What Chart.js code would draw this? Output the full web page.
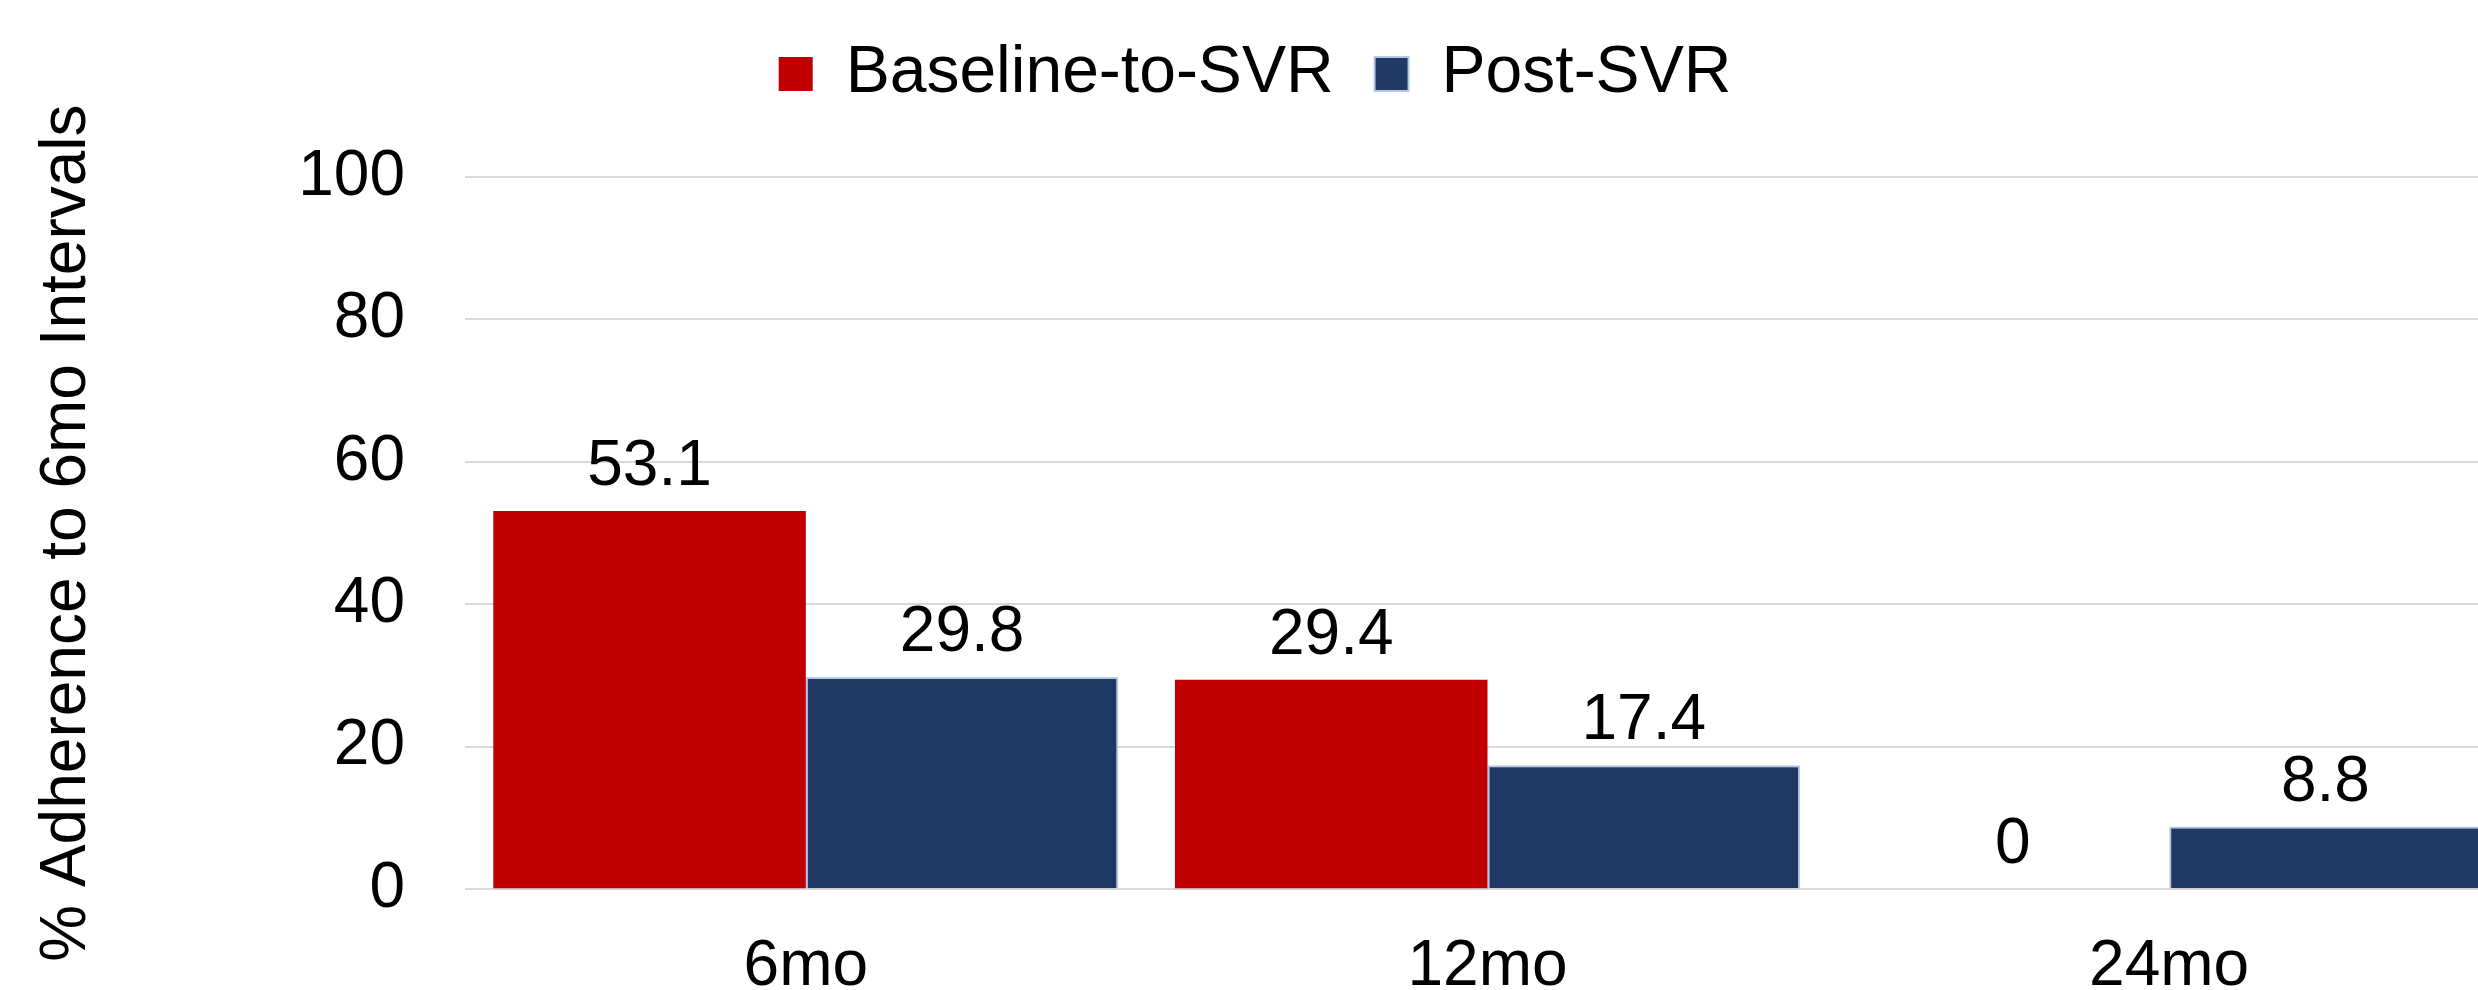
<!DOCTYPE html>
<html>
<head>
<meta charset="utf-8">
<script src="https://cdn.jsdelivr.net/npm/chart.js@4.4.0/dist/chart.umd.min.js"></script>
<style>
    html, body { margin: 0; padding: 0; background: #fff; overflow: hidden; }
    #wrap { width: 2512px; height: 1046px; }
</style>
</head>
<body>
<div id="wrap"><canvas id="adherence-chart"></canvas></div>
<script>
// Chart data
const categories = ['6mo', '12mo', '24mo'];
const baselineToSvr = [53.1, 29.4, 0];
const postSvr = [29.8, 17.4, 8.8];
const yTicks = [0, 20, 40, 60, 80, 100];

const FONT = '"Liberation Sans", Arial, sans-serif';

// Draw the value above each bar
const barValueLabels = {
    id: 'barValueLabels',
    afterDatasetsDraw(chart) {
        const ctx = chart.ctx;
        ctx.save();
        ctx.font = '64px ' + FONT;
        ctx.fillStyle = '#000';
        ctx.textAlign = 'center';
        ctx.textBaseline = 'alphabetic';
        chart.data.datasets.forEach((ds, i) => {
            chart.getDatasetMeta(i).data.forEach((bar, j) => {
                ctx.fillText(String(ds.data[j]), bar.x, bar.y - 26);
            });
        });
        ctx.restore();
    }
};

// Extra space between the legend and the plot
const legendGap = {
    id: 'legendGap',
    beforeInit(chart) {
        const origFit = chart.legend.fit;
        chart.legend.fit = function () {
            origFit.bind(chart.legend)();
            this.height += 60;
        };
    }
};

function initChart() {
    const ctx = document.getElementById('adherence-chart').getContext('2d');
    new Chart(ctx, {
        type: 'bar',
        data: {
            labels: categories,
            datasets: [{
                label: 'Baseline-to-SVR',
                data: baselineToSvr,
                backgroundColor: '#C00000',
                borderWidth: 0
            }, {
                label: 'Post-SVR',
                data: postSvr,
                backgroundColor: '#203864',
                borderColor: '#B4C7E7',
                borderWidth: 2
            }]
        },
        plugins: [barValueLabels, legendGap],
        options: {
            responsive: true,
            maintainAspectRatio: false,
            animation: false,
            layout: { padding: { top: 0, right: 2, left: 0, bottom: 0 } },
            datasets: {
                bar: { categoryPercentage: 0.917, barPercentage: 1.0 }
            },
            plugins: {
                legend: {
                    position: 'top',
                    labels: {
                        color: '#000',
                        font: { family: FONT, size: 66 },
                        boxWidth: 34,
                        boxHeight: 34,
                        padding: 41
                    }
                },
                tooltip: { enabled: false }
            },
            scales: {
                x: {
                    grid: { display: false, drawTicks: false },
                    border: { display: false },
                    ticks: {
                        color: '#000',
                        font: { family: FONT, size: 64 },
                        padding: 40
                    }
                },
                y: {
                    min: 0,
                    max: 100,
                    afterBuildTicks: axis => {
                        axis.ticks = yTicks.map(v => ({ value: v }));
                    },
                    afterFit: axis => { axis.width = 465; },
                    grid: { color: '#D9D9D9', lineWidth: 2, drawTicks: false },
                    border: { display: false },
                    ticks: {
                        color: '#000',
                        font: { family: FONT, size: 64 },
                        padding: 60
                    },
                    title: {
                        display: true,
                        text: '% Adherence to 6mo Intervals',
                        color: '#000',
                        font: { family: FONT, size: 64 },
                        padding: { top: 29, bottom: 0 }
                    }
                }
            }
        }
    });
}

window.addEventListener('DOMContentLoaded', initChart);
</script>
</body>
</html>
